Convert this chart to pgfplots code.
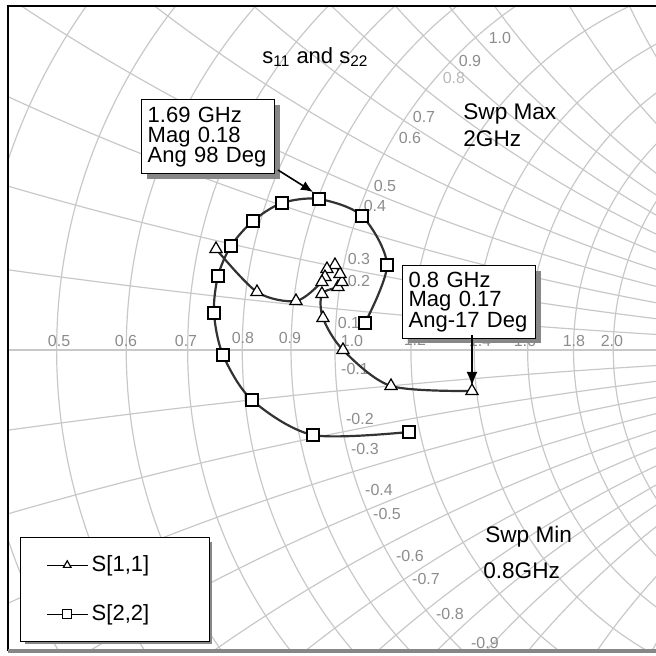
\documentclass[border=0pt]{standalone}
\usepackage{pgfplots}
\pgfplotsset{compat=1.18}
\usepackage{fontspec}
\setmainfont{Liberation Sans}
\usetikzlibrary{shadows,arrows.meta}
\definecolor{gridc}{RGB}{200,200,200}
\definecolor{labc}{RGB}{140,140,140}
\definecolor{labl}{RGB}{185,185,185}
\definecolor{curvec}{RGB}{50,50,50}
\definecolor{shadc}{RGB}{135,135,135}

\begin{document}
\begin{tikzpicture}
\begin{axis}[
  x=417.5pt, y=417.5pt,
  xmin=-0.3916, xmax=0.3844, ymin=-0.3605, ymax=0.4120,
  hide axis,
  clip=true,
  legend style={at={(axis cs:-0.3772,-0.2240)}, anchor=north west,
    draw=black, line width=0.7pt, fill=white,
    font=\fontsize{11}{13}\selectfont, row sep=11pt, inner xsep=13pt, inner ysep=7pt},
  legend cell align=left,
  legend image code/.code={
     \draw[mark repeat=2, mark phase=2, #1, line width=0.5pt, draw=black, mark size=2.2pt]
     plot coordinates {(0pt,0pt) (10pt,0pt) (20pt,0pt)};},
]
% resistance circles
\pgfplotsinvokeforeach{0.2,0.3,0.4,0.5,0.6,0.7,0.8,0.9,1.0,1.2,1.4,1.6,1.8,2.0}{
  \draw[gridc, line width=0.6pt] (axis cs:{#1/(1+#1)},0) circle [radius={1/(1+#1)}];
}
% reactance arcs
\pgfplotsinvokeforeach{0.1,0.2,0.3,0.4,0.5,0.6,0.7,0.8,0.9,1.0,1.2,1.4,1.6,1.8,2.0}{
  \draw[gridc, line width=0.6pt] (axis cs:1,{1/#1}) circle [radius={1/#1}];
  \draw[gridc, line width=0.6pt] (axis cs:1,{-1/#1}) circle [radius={1/#1}];
}
\draw[gridc, line width=0.6pt] (axis cs:-1,0) -- (axis cs:1,0);

% resistance labels
\begin{scope}[every node/.style={text=labc, font=\fontsize{8}{8}\selectfont, inner sep=0pt}]
\node at (axis cs:-0.3305,0.0108) {0.5};
\node at (axis cs:-0.2503,0.0108) {0.6};
\node at (axis cs:-0.1784,0.0108) {0.7};
\node at (axis cs:-0.1102,0.0144) {0.8};
\node at (axis cs:-0.0539,0.0144) {0.9};
\node at (axis cs:0.0204,0.0108) {1.0};
\node at (axis cs:0.0958,0.0120) {1.2};
\node at (axis cs:0.1737,0.0108) {1.4};
\node at (axis cs:0.2275,0.0108) {1.6};
\node at (axis cs:0.2862,0.0108) {1.8};
\node at (axis cs:0.3317,0.0108) {2.0};
% reactance labels
\node at (axis cs:0.1976,0.3737) {1.0};
\node at (axis cs:0.1617,0.3461) {0.9};
\node[text=labl] at (axis cs:0.1425,0.3257) {0.8};
\node at (axis cs:0.1066,0.2790) {0.7};
\node at (axis cs:0.0898,0.2539) {0.6};
\node at (axis cs:0.0599,0.1964) {0.5};
\node at (axis cs:0.0479,0.1725) {0.4};
\node at (axis cs:0.0287,0.1090) {0.3};
\node at (axis cs:0.0287,0.0826) {0.2};
\node at (axis cs:0.0168,0.0323) {0.1};
\node at (axis cs:0.0240,-0.0228) {-0.1};
\node at (axis cs:0.0299,-0.0826) {-0.2};
\node at (axis cs:0.0359,-0.1186) {-0.3};
\node at (axis cs:0.0527,-0.1677) {-0.4};
\node at (axis cs:0.0623,-0.1964) {-0.5};
\node at (axis cs:0.0898,-0.2467) {-0.6};
\node at (axis cs:0.1090,-0.2743) {-0.7};
\node at (axis cs:0.1377,-0.3162) {-0.8};
\node at (axis cs:0.1796,-0.3509) {-0.9};
\end{scope}

% legend shadow
\fill[shadc] (axis cs:-0.3712,-0.2300) rectangle (axis cs:-0.1473,-0.3522);

% S[1,1]
\addplot[smooth, curvec, line width=1.1pt, mark=triangle*, mark size=3.5pt,
  mark options={fill=white, draw=black, line width=0.6pt}] coordinates {
(0.1641,-0.0491) (0.0671,-0.0431) (0.0096,0.0000) (-0.0144,0.0383)
(-0.0156,0.0671) (0.0036,0.0754) (0.0084,0.0814) (0.0060,0.0910)
(0.0000,0.1018) (-0.0096,0.0970) (-0.0120,0.0874) (-0.0156,0.0814)
(-0.0467,0.0587) (-0.0934,0.0695) (-0.1425,0.1210)
};
\addlegendentry{\makebox[44pt][l]{S[1,1]}}
% S[2,2]
\addplot[smooth, curvec, line width=1.1pt, mark=square*, mark size=3pt,
  mark options={fill=white, draw=black, line width=0.6pt}] coordinates {
(0.0886,-0.0982) (-0.0263,-0.1018) (-0.0994,-0.0599) (-0.1341,-0.0060)
(-0.1449,0.0443) (-0.1401,0.0886) (-0.1246,0.1246) (-0.0982,0.1545)
(-0.0635,0.1760) (-0.0192,0.1808) (0.0323,0.1605) (0.0623,0.1018)
(0.0359,0.0323)
};
\addlegendentry{\makebox[44pt][l]{S[2,2]}}

% texts
\node[anchor=base west, inner sep=0pt, font=\fontsize{11}{13}\selectfont] at (axis cs:-0.0874,0.3437) {s\textsubscript{11} and s\textsubscript{22}};
\node[anchor=base west, inner sep=0pt, font=\fontsize{11.3}{13}\selectfont] at (axis cs:0.1533,0.2766) {Swp Max};
\node[anchor=base west, inner sep=0pt, font=\fontsize{11.3}{13}\selectfont] at (axis cs:0.1533,0.2443) {2GHz};
\node[anchor=base west, inner sep=0pt, font=\fontsize{11.3}{13}\selectfont] at (axis cs:0.1796,-0.2311) {Swp Min};
\node[anchor=base west, inner sep=0pt, font=\fontsize{11.3}{13}\selectfont] at (axis cs:0.1772,-0.2731) {0.8GHz};

% annotation boxes
\node[anchor=north west, draw=black, line width=0.7pt, fill=white,
  drop shadow={shadow xshift=2.5pt, shadow yshift=-2.5pt, fill=shadc, opacity=1},
  inner xsep=3pt, inner ysep=3.5pt, text width=60.5pt, align=left,
  font=\fontsize{11}{10}\selectfont] at (axis cs:-0.2323,0.3006)
  {1.69 GHz\\Mag 0.18\\Ang 98 Deg};
\node[anchor=north west, draw=black, line width=0.7pt, fill=white,
  drop shadow={shadow xshift=2.5pt, shadow yshift=-2.5pt, fill=shadc, opacity=1},
  inner xsep=3pt, inner ysep=3pt, text width=60.5pt, align=left,
  font=\fontsize{11}{9.5}\selectfont] at (axis cs:0.0802,0.1018)
  {0.8 GHz\\Mag 0.17\\Ang-17 Deg};
\draw[black, line width=0.8pt, -{Latex[length=6pt,width=5pt]}] (axis cs:-0.0683,0.2156) -- (axis cs:-0.0263,0.1892);
\draw[black, line width=1pt, -{Latex[length=7pt,width=5.5pt]}] (axis cs:0.1641,0.0180) -- (axis cs:0.1641,-0.0431);

\coordinate (FNW) at (axis cs:-0.3916,0.4120);
\coordinate (FNE) at (axis cs:0.3844,0.4120);
\coordinate (FSW) at (axis cs:-0.3916,-0.3605);
\coordinate (FSE) at (axis cs:0.3844,-0.3605);
\coordinate (BBL) at (axis cs:-0.4012,-0.3665);
\coordinate (BTR) at (axis cs:0.3844,0.4192);
\end{axis}
\draw[black, line width=1pt] (FNE) -- (FNW) -- (FSW);
\draw[shadc, line width=2pt] (FSW) -- (FSE);
\pgfresetboundingbox
\path[use as bounding box] (BBL) rectangle (BTR);
\end{tikzpicture}
\end{document}
